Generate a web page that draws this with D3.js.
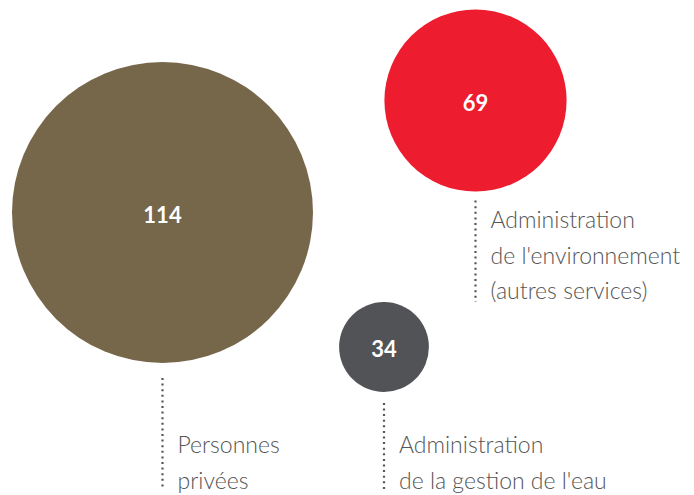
<!DOCTYPE html>
<html>
<head>
<meta charset="utf-8">
<script src="https://cdn.jsdelivr.net/npm/d3@7"></script>
<style>
  body { margin: 0; background: #fff; }
  svg { display: block; }
</style>
</head>
<body>
<script>
// data
const categories = ['Personnes privées', "Administration de l'environnement (autres services)", "Administration de la gestion de l'eau"];
const values = [114, 69, 34];
const labelLines = [
  ['Personnes', 'privées'],
  ['Administration', "de l'environnement", '(autres services)'],
  ['Administration', "de la gestion de l'eau"]
];

// layout (circle centres, label anchors)
const centers = [[162.5, 212.5], [475.5, 100.5], [384, 347]];
const lineStartGap = [15, 9, 11];
const lineEnd = [490, 302, 490];
const firstBaseline = [453, 228, 453];

const svgWidth = 694;
const svgHeight = 495;

const color = d3.scaleOrdinal()
  .domain(categories)
  .range(['#77674a', '#ed1c2e', '#525357']);

// radius proportional to value
const r = d3.scaleLinear()
  .domain([0, d3.max(values)])
  .range([0, 150.5]);

const svg = d3.select('body').append('svg')
  .attr('width', svgWidth)
  .attr('height', svgHeight);

const items = categories.map((c, i) => ({
  cat: c, value: values[i], lines: labelLines[i],
  cx: centers[i][0], cy: centers[i][1],
  gap: lineStartGap[i], end: lineEnd[i], base: firstBaseline[i]
}));

const g = svg.selectAll('.bubble')
  .data(items)
  .enter()
  .append('g')
  .attr('class', 'bubble');

g.append('circle')
  .attr('cx', d => d.cx)
  .attr('cy', d => d.cy)
  .attr('r', d => r(d.value))
  .attr('fill', d => color(d.cat));

g.append('text')
  .attr('x', d => d.cx)
  .attr('y', d => d.cy + 10)
  .attr('text-anchor', 'middle')
  .attr('fill', '#fff')
  .style('font-family', 'Lato, "Open Sans", sans-serif')
  .style('font-weight', 'bold')
  .style('font-size', '22px')
  .text(d => d.value);

// dotted leader lines
g.append('line')
  .attr('x1', d => d.cx)
  .attr('x2', d => d.cx)
  .attr('y1', d => d.cy + r(d.value) + d.gap)
  .attr('y2', d => d.end)
  .attr('stroke', '#555')
  .attr('stroke-width', 2.2)
  .attr('stroke-dasharray', '2 3.6');

// labels
g.append('text')
  .attr('fill', '#555')
  .style('font-family', 'Lato, "Open Sans", sans-serif')
  .style('font-weight', 300)
  .style('font-size', '23px')
  .selectAll('tspan')
  .data(d => d.lines.map((t, j) => ({ t, j, x: d.cx + 15, y: d.base + j * 35.5 })))
  .enter()
  .append('tspan')
  .attr('x', d => d.x)
  .attr('y', d => d.y)
  .text(d => d.t);
</script>
</body>
</html>
